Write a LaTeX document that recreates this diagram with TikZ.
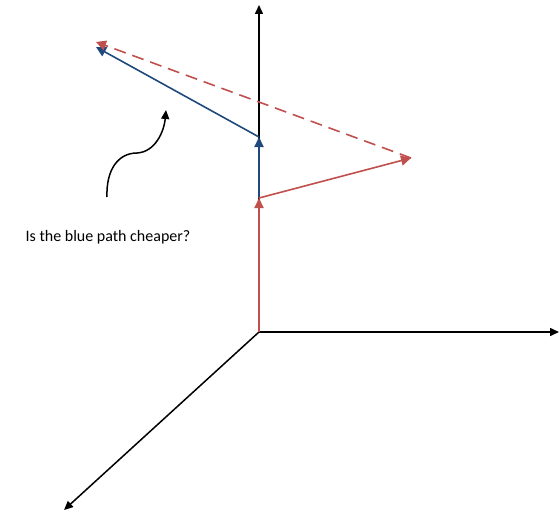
\documentclass[tikz,border=0pt]{standalone}
\usepackage{fontspec}
\setmainfont{Carlito}
\usetikzlibrary{arrows.meta}
\definecolor{pred}{HTML}{C0504D}
\definecolor{pblue}{HTML}{1F497D}
\begin{document}
\begin{tikzpicture}[x=1pt,y=-1pt,
  axis/.style={line width=1.5pt,black,-{Triangle[length=9pt,width=8pt]}},
  redv/.style={line width=2pt,pred,-{Triangle[length=10pt,width=9pt]}},
  bluev/.style={line width=2pt,pblue,-{Triangle[length=10pt,width=9pt]}},
  redl/.style={line width=1.6pt,pred,-{Triangle[length=10pt,width=10pt]}},
  bluel/.style={line width=1.6pt,pblue,-{Triangle[length=10pt,width=10pt]}},
  reddash/.style={redl,dash pattern=on 12pt off 7pt},
  curvy/.style={line width=1.5pt,black,-{Triangle[length=9pt,width=8pt]}}]
\useasboundingbox (0,0) rectangle (559,516);
\coordinate (O) at (259,332);
\coordinate (Ytop) at (259,5);
\coordinate (Xend) at (559,332);
\coordinate (Zend) at (64,510);
\coordinate (A) at (259,198);
\coordinate (B) at (259,137);
\coordinate (C) at (96,47);
\coordinate (D) at (411,158);
\coordinate (E) at (96,42);
\coordinate (S) at (107,197);
\coordinate (T) at (166,110);
\draw[axis] (O) -- (Ytop);
\draw[axis] (O) -- (Xend);
\draw[axis] (O) -- (Zend);
\draw[redv] (O) -- (A);
\draw[bluev] (A) -- (B);
\draw[bluel] (B) -- (C);
\draw[redl] (A) -- (D);
\draw[reddash] (D) -- (E);
\draw[curvy] (S) .. controls (106,170) and (118,153) .. (137,153) .. controls (155,152) and (164,132) .. (T);
\node[font=\fontsize{16}{18}\selectfont,anchor=center] (q) at (108,237) {Is the blue path cheaper?};
\end{tikzpicture}
\end{document}
